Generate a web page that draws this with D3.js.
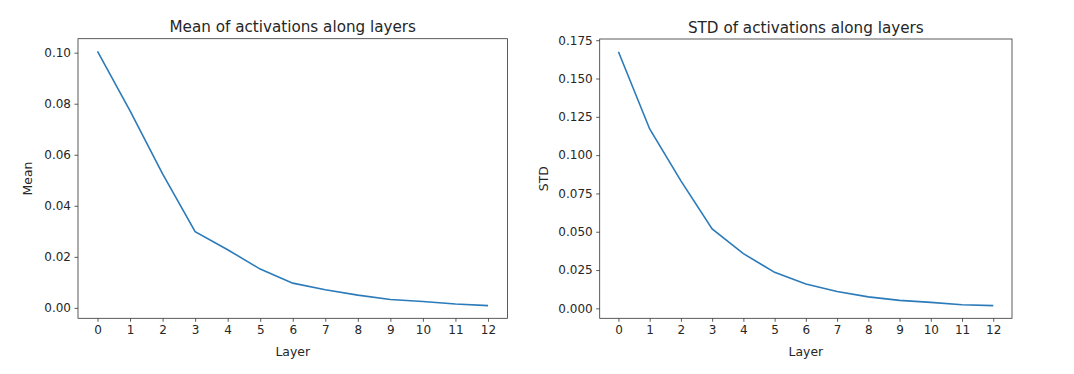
<!DOCTYPE html>
<html><head><meta charset="utf-8">
<script src="https://cdn.jsdelivr.net/npm/d3@7"></script>
<style>body{margin:0;background:#fff}svg text{font-family:"DejaVu Sans",sans-serif;fill:#262626}</style>
</head><body><svg id="c" width="1074" height="374"></svg>
<script>
const layers = [0,1,2,3,4,5,6,7,8,9,10,11,12];
const meanValues = [0.1005,0.0772,0.0525,0.0299,0.0228,0.0152,0.0097,0.0071,0.0050,0.0033,0.0025,0.0015,0.0009];
const stdValues = [0.1675,0.1171,0.0832,0.0518,0.0357,0.0235,0.0159,0.0110,0.0075,0.0052,0.0039,0.0024,0.0018];
const meanTicks = [0.00,0.02,0.04,0.06,0.08,0.10];
const stdTicks = [0.000,0.025,0.050,0.075,0.100,0.125,0.150,0.175];

const svg = d3.select("#c");
function panel(box, values, ticks, fmt, title, ylabel){
  const g = svg.append("g");
  const lo = d3.min(values), hi = d3.max(values), m = (hi-lo)*0.05;
  const x = d3.scaleLinear().domain([-0.6,12.6]).range([box.l, box.r]);
  const y = d3.scaleLinear().domain([lo-m, hi+m]).range([box.b, box.t]);
  const xa = g.append("g").attr("transform",`translate(0,${box.b})`)
    .call(d3.axisBottom(x).tickValues(layers).tickFormat(d3.format("d")).tickSize(3.5).tickPadding(3.5));
  const ya = g.append("g").attr("transform",`translate(${box.l},0)`)
    .call(d3.axisLeft(y).tickValues(ticks).tickFormat(d3.format(fmt)).tickSize(3.5).tickPadding(3.5));
  [xa,ya].forEach(a=>{a.select(".domain").remove();a.selectAll("line").attr("stroke","#333").attr("stroke-width",0.8);
    a.selectAll("text").attr("font-size",12).attr("fill","#262626").attr("font-family","DejaVu Sans");});
  g.append("rect").attr("x",box.l).attr("y",box.t).attr("width",box.r-box.l).attr("height",box.b-box.t)
    .attr("fill","none").attr("stroke","#333").attr("stroke-width",0.8);
  g.append("path").datum(values).attr("fill","none").attr("stroke","#2b7bba").attr("stroke-width",1.6)
    .attr("d", d3.line().x((d,i)=>x(layers[i])).y(d=>y(d)));
  g.append("text").attr("x",(box.l+box.r)/2).attr("y",box.t-6.5).attr("text-anchor","middle").attr("font-size",15.2).text(title);
  g.append("text").attr("x",(box.l+box.r)/2).attr("y",box.b+38).attr("text-anchor","middle").attr("font-size",12.4).text("Layer");
  g.append("text").attr("transform",`translate(${box.ylx},${(box.t+box.b)/2}) rotate(-90)`).attr("text-anchor","middle").attr("font-size",12.4).text(ylabel);
}
panel({l:78,r:507.5,t:38.7,b:318.3,ylx:32}, meanValues, meanTicks, ".2f", "Mean of activations along layers", "Mean");
panel({l:599.7,r:1012,t:39,b:318.3,ylx:547.5}, stdValues, stdTicks, ".3f", "STD of activations along layers", "STD");
</script></body></html>
